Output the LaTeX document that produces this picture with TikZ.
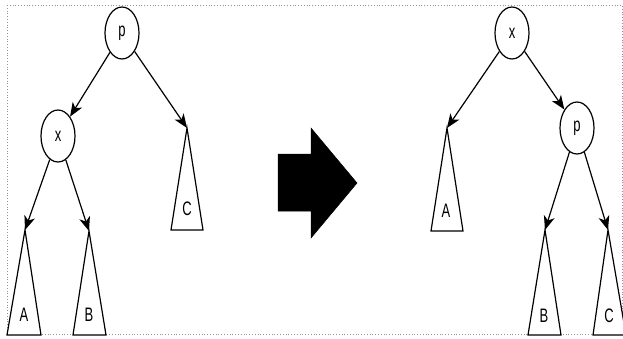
\documentclass[tikz,border=0pt]{standalone}
\usepackage{fontspec}
\setmainfont{Liberation Sans}
\usetikzlibrary{shapes.geometric,arrows.meta}
\begin{document}
\begin{tikzpicture}[x=1pt,y=-1pt,
  tnode/.style={ellipse,draw,line width=1.2pt,minimum width=34pt,minimum height=52pt,inner sep=0pt,font=\fontsize{13}{13}\selectfont},
  lbl/.style={inner sep=0pt,font=\fontsize{13}{13}\selectfont},
  tri/.style={draw,line width=1.2pt,fill=white,line join=miter},
  edge/.style={draw,line width=1.2pt,-{Stealth[length=14pt,width=11pt,inset=4pt]}},
  bigarrow/.style={fill=black,draw=black,line width=0.5pt}]
\useasboundingbox (0,0) rectangle (623,338);
\draw[gray!85,dotted,line width=0.8pt] (7,5) rectangle (622,334);
% left tree
\node[tnode] (pL) at (122,33) {\scalebox{1}[1.5]{p}};
\node[tnode] (xL) at (58,136) {\scalebox{1}[1.5]{x}};
\coordinate (aL) at (25,230);
\coordinate (bL) at (89,231);
\coordinate (cL) at (187,128);
\draw[tri] (aL) -- (41,335) -- (7,335) -- cycle;
\draw[tri] (bL) -- (106,335) -- (73,335) -- cycle;
\draw[tri] (cL) -- (203,230) -- (171,230) -- cycle;
\node[lbl] (laL) at (24,315) {\scalebox{1}[1.5]{A}};
\node[lbl] (lbL) at (89,315) {\scalebox{1}[1.5]{B}};
\node[lbl] (lcL) at (187,209) {\scalebox{1}[1.5]{C}};
\draw[edge] (pL) -- (xL);
\draw[edge] (pL) -- (cL);
\draw[edge] (xL) -- (aL);
\draw[edge] (xL) -- (bL);
% big arrow
\fill[bigarrow] (278,154) -- (311,154) -- (311,128) -- (357,183) -- (311,238) -- (311,211) -- (278,211) -- cycle;
% right tree
\node[tnode] (xR) at (512,33) {\scalebox{1}[1.5]{x}};
\node[tnode] (pR) at (577,128) {\scalebox{1}[1.5]{p}};
\coordinate (aR) at (447,128);
\coordinate (bR) at (545,230);
\coordinate (cR) at (608,230);
\draw[tri] (aR) -- (463,231) -- (431,231) -- cycle;
\draw[tri] (bR) -- (561,335) -- (528,335) -- cycle;
\draw[tri] (cR) -- (626,335) -- (593,335) -- cycle;
\node[lbl] (laR) at (446,211) {\scalebox{1}[1.5]{A}};
\node[lbl] (lbR) at (544,316) {\scalebox{1}[1.5]{B}};
\node[lbl] (lcR) at (609,316) {\scalebox{1}[1.5]{C}};
\draw[edge] (xR) -- (aR);
\draw[edge] (xR) -- (pR);
\draw[edge] (pR) -- (bR);
\draw[edge] (pR) -- (cR);
\end{tikzpicture}
\end{document}
